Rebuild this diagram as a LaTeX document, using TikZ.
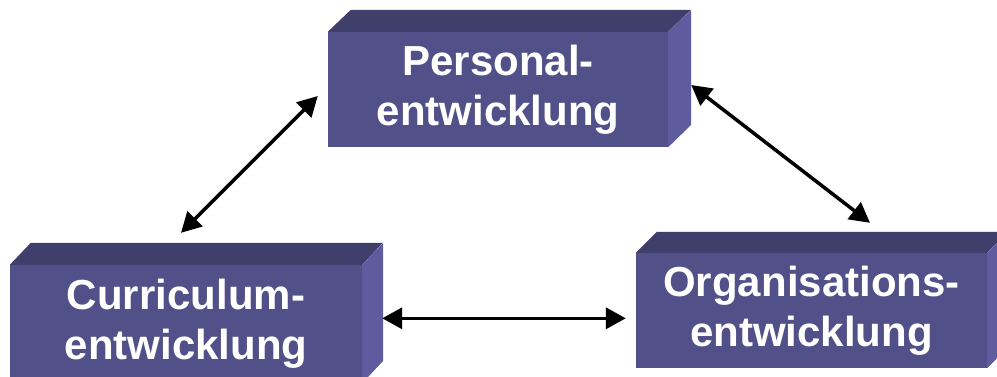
\documentclass[tikz,border=0pt]{standalone}
\usepackage{fontspec}
\setmainfont{Liberation Sans}
\usepackage{xcolor}
\usetikzlibrary{arrows.meta}

\definecolor{frontcol}{RGB}{82,80,136}
\definecolor{topcol}{RGB}{64,62,106}
\definecolor{sidecol}{RGB}{94,92,158}

\tikzset{
  front/.style={rectangle,fill=frontcol,inner sep=0pt,text=white,align=center,
    font=\fontsize{42pt}{50pt}\selectfont\bfseries},
  topface/.style={fill=topcol},
  sideface/.style={fill=sidecol},
  link/.style={line width=3.5pt,{Triangle[length=20pt,width=21pt]}-{Triangle[length=20pt,width=21pt]}}
}

\begin{document}
\begin{tikzpicture}[x=1pt,y=-1pt]
\useasboundingbox (0,0) rectangle (997,376);
\clip (0,0) rectangle (997,376);

% Personalentwicklung
\node[front,minimum width=340pt,minimum height=115pt] (pers) at (498,89.5) {Personal-\\entwicklung};
\fill[topface](pers.north west)--++(23,-22)--++(340,0)--(pers.north east)--cycle;
\fill[sideface](pers.north east)--++(23,-22)--++(0,115)--(pers.south east)--cycle;

% Curriculumentwicklung
\node[front,minimum width=352pt,minimum height=118pt] (curr) at (186,324) {Curriculum-\\entwicklung};
\fill[topface](curr.north west)--++(21,-22)--++(352,0)--(curr.north east)--cycle;
\fill[sideface](curr.north east)--++(21,-22)--++(0,118)--(curr.south east)--cycle;

% Organisationsentwicklung
\node[front,minimum width=351pt,minimum height=115pt] (org) at (811.5,310.5) {Organisations-\\entwicklung};
\fill[topface](org.north west)--++(21,-21)--++(351,0)--(org.north east)--cycle;
\fill[sideface](org.north east)--++(21,-21)--++(0,115)--(org.south east)--cycle;

% Verbindungen
\draw[link]([shift={(-10,6.5)}]pers.west)--([shift={(-5,-32)}]curr.north);
\draw[link]([shift={(23,-4.5)}]pers.east)--([shift={(58.5,-30)}]org.north);
\draw[link]([shift={(20,-5.7)}]curr.east)--([shift={(-10,7.8)}]org.west);
\end{tikzpicture}
\end{document}
